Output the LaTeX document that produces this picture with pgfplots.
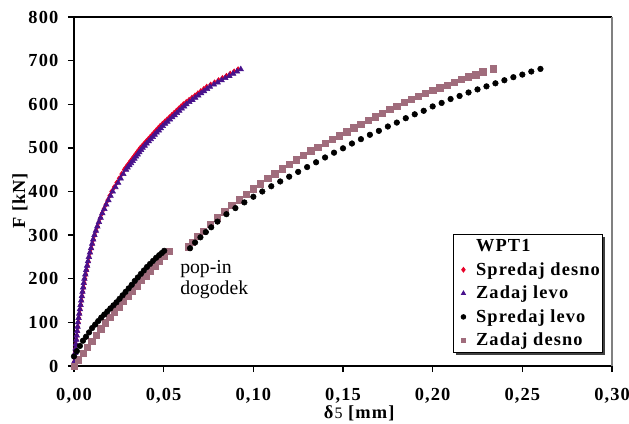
\documentclass[border=0pt]{standalone}
\usepackage{fontspec}
\setmainfont{Liberation Serif}
\newfontfamily\lsbf[LetterSpace=6]{Liberation Serif Bold}
\usepackage{pgfplots}
\pgfplotsset{compat=1.18}
\usetikzlibrary{shadows}
\definecolor{cred}{RGB}{232,0,40}
\definecolor{cpur}{RGB}{72,18,140}
\definecolor{cmau}{RGB}{160,108,124}
\newcommand{\tfont}{\lsbf\fontsize{13.8}{16}\selectfont}
\begin{document}
\begin{tikzpicture}
\begin{axis}[
  scale only axis, width=403.5pt, height=261.75pt,
  xmin=0, xmax=0.3, ymin=0, ymax=800,
  axis x line*=bottom, axis y line*=left,
  axis line style={black, line width=1.1pt},
  tick align=outside, major tick length=4.5pt,
  tick style={black, line width=1.1pt},
  xtick={0,0.05,0.1,0.15,0.2,0.25,0.3},
  ytick={0,100,200,300,400,500,600,700,800},
  scaled x ticks=false, scaled y ticks=false,
  /pgf/number format/assume math mode=true,
  xticklabel style={font=\tfont, yshift=-9pt, /pgf/number format/.cd, fixed, fixed zerofill, precision=2, use comma},
  yticklabel style={font=\tfont, xshift=-3.75pt, /pgf/number format/.cd, fixed, precision=0},
  xlabel={\textbf{δ}{\normalfont\fontsize{12}{14}\selectfont 5} \lsbf{[mm]}},
  xlabel style={font=\tfont, at={(axis description cs:0.53,-0.149)}, anchor=base},
  ylabel={F [kN]},
  ylabel style={font=\tfont, at={(axis description cs:-0.1003,0.473)}, anchor=center},
  clip=false,
  legend style={at={(rel axis cs:1,0)}, anchor=south east, xshift=-6.75pt, yshift=9.75pt,
    draw=black, line width=0.7pt, fill=white, font=\tfont, inner xsep=1pt, inner ysep=1.5pt,
    nodes={inner xsep=1pt},
    row sep=2.6pt, cells={anchor=west},
    drop shadow={shadow xshift=2pt, shadow yshift=-2pt, fill=black!75, opacity=1}},
  legend image code/.code={\pgfpathrectangle{\pgfpoint{0pt}{-2pt}}{\pgfpoint{14.75pt}{4pt}}\pgfusepath{discard}\draw[mark repeat=2,mark phase=2,#1,mark size=1.7pt] plot coordinates {(0pt,0pt)(6.25pt,0pt)(14.75pt,0pt)};},
]
\addlegendimage{empty legend}
\addlegendentry{WPT1}
% Spredaj desno
\addplot[only marks, mark=diamond*, mark size=2pt, color=cred] coordinates {
(0,0)(0.0002,10)(0.0004,20)(0.0006,30)(0.0008,40)(0.0010,50)(0.00128,60)(0.00156,70)(0.00184,80)(0.00212,90)
(0.0024,100)(0.00274,110)(0.00308,120)(0.00342,130)(0.00376,140)(0.0041,150)(0.0045,160)(0.0049,170)(0.0053,180)(0.0057,190)
(0.0061,200)(0.00656,210)(0.00702,220)(0.00748,230)(0.00794,240)(0.0084,250)(0.0090,260)(0.0096,270)(0.0102,280)(0.0108,290)
(0.0115,300)(0.0123,310)(0.0131,320)(0.0139,330)(0.0148,340)(0.0157,350)(0.0167,360)(0.0178,370)(0.0188,380)(0.0199,390)
(0.0210,400)(0.0224,410)(0.0238,420)(0.0252,430)(0.0266,440)
(0.0280,450)(0.0289,455)(0.0298,460)(0.0307,465)(0.0316,470)(0.0325,475)(0.0334,480)(0.0343,485)(0.0352,490)(0.0361,495)
(0.0370,500)(0.0381,505)(0.0392,510)(0.0403,515)(0.0414,520)(0.0425,525)(0.0436,530)(0.0447,535)(0.0458,540)(0.0469,545)
(0.0480,550)(0.0493,555)(0.0506,560)(0.0519,565)(0.0532,570)(0.0545,575)(0.0558,580)(0.0571,585)(0.0584,590)(0.0597,595)
(0.0610,600)(0.0626,605)(0.0642,610)(0.0658,615)(0.0675,620)(0.0691,625)(0.0707,630)(0.0724,635)(0.0740,640)(0.0762,645)
(0.0784,650)(0.0806,655)(0.0828,660)(0.0850,665)(0.0871,670)(0.0893,675)(0.0915,680)
};
\addlegendentry{Spredaj desno}
% Zadaj levo
\addplot[only marks, mark=triangle*, mark size=2.4pt, color=cpur] coordinates {
(0,0)(0.00022,10)(0.00044,20)(0.00066,30)(0.00088,40)(0.0011,50)(0.00132,60)(0.00154,70)(0.00176,80)(0.00198,90)
(0.0022,100)(0.00256,110)(0.00292,120)(0.00328,130)(0.00364,140)(0.0040,150)(0.00436,160)(0.00472,170)(0.00508,180)(0.00544,190)
(0.0058,200)(0.0063,210)(0.0068,220)(0.0073,230)(0.0078,240)(0.0083,250)(0.0089,260)(0.0095,270)(0.0101,280)(0.0107,290)
(0.0114,300)(0.0122,310)(0.0130,320)(0.0139,330)(0.0148,340)(0.0158,350)(0.0169,360)(0.0180,370)(0.0192,380)(0.0204,390)
(0.0216,400)(0.0231,410)(0.0246,420)(0.0260,430)(0.0275,440)
(0.0290,450)(0.0299,455)(0.0309,460)(0.0318,465)(0.0327,470)(0.0337,475)(0.0346,480)(0.0355,485)(0.0364,490)(0.0374,495)
(0.0383,500)(0.0394,505)(0.0405,510)(0.0417,515)(0.0428,520)(0.0439,525)(0.0450,530)(0.0461,535)(0.0473,540)(0.0484,545)
(0.0495,550)(0.0508,555)(0.0521,560)(0.0535,565)(0.0548,570)(0.0561,575)(0.0574,580)(0.0587,585)(0.0601,590)(0.0614,595)
(0.0627,600)(0.0643,605)(0.0660,610)(0.0676,615)(0.0693,620)(0.0709,625)(0.0725,630)(0.0742,635)(0.0758,640)(0.0780,645)
(0.0801,650)(0.0823,655)(0.0844,660)(0.0866,665)(0.0887,670)(0.0909,675)(0.0930,680)
};
\addlegendentry{Zadaj levo}
\addlegendimage{only marks, mark=*, color=black}
\addlegendentry{Spredaj levo}
\addlegendimage{only marks, mark=square*, color=cmau}
\addlegendentry{Zadaj desno}
% Zadaj desno
\addplot[only marks, mark=square*, mark size=2.4pt, color=cmau, forget plot] coordinates {
(0,0)(0.0025,14)(0.005,29)(0.0075,43)(0.010,57)(0.0125,71)(0.015,85)(0.0175,99)(0.020,112)(0.0225,124)
(0.025,136)(0.0275,148)(0.030,160)(0.0325,172)(0.035,184)(0.0375,196)(0.040,207)(0.0425,218)(0.045,229)(0.0475,240)
(0.050,251)(0.053,263)
(0.0637,273)(0.066,284)(0.069,297)(0.072,309)(0.076,325)(0.080,340)(0.084,354)(0.088,368)(0.092,381)(0.096,394)(0.100,406)
(0.104,418)(0.108,430)(0.112,441)(0.116,452)(0.120,463)(0.124,473)(0.128,483)(0.132,493)(0.136,502)(0.140,511)
(0.144,520)(0.148,528)(0.152,537)(0.156,546)(0.160,554)(0.164,563)(0.168,571)(0.172,580)(0.176,588)(0.180,596)
(0.184,604)(0.188,611)(0.192,618)(0.196,625)(0.200,632)(0.204,638)(0.208,644)(0.212,650)(0.216,657)(0.220,663)
(0.224,668)(0.228,674)(0.2337,681)
};
% Spredaj levo
\addplot[only marks, mark=*, mark size=2.1pt, color=black, forget plot] coordinates {
(0,22)(0.0016,34)(0.0033,46)(0.005,58)(0.0067,67)(0.0084,77)(0.0101,87)(0.0118,95)(0.0135,103)(0.0152,111)
(0.0169,118)(0.0186,125)(0.0203,132)(0.0220,139)(0.0237,146)(0.0254,154)(0.0271,162)(0.0288,170)(0.0305,178)(0.0322,186)
(0.0339,195)(0.0356,203)(0.0373,211)(0.0390,219)(0.0407,227)(0.0424,234)(0.0441,241)(0.0458,248)(0.0475,254)(0.0490,259)
(0.0503,264)
(0.0647,270)(0.0675,283)(0.0705,295)(0.0735,307)(0.0765,318)(0.080,331)(0.085,348)(0.090,362)(0.095,375)(0.100,388)(0.105,400)(0.110,412)
(0.115,423)(0.120,434)(0.125,445)(0.130,456)(0.135,467)(0.140,478)(0.145,489)(0.150,499)(0.155,510)(0.160,520)
(0.165,530)(0.170,539)(0.175,549)(0.180,558)(0.185,568)(0.190,577)(0.195,585)(0.200,595)(0.205,603)(0.210,612)
(0.215,619)(0.220,627)(0.225,634)(0.230,641)(0.235,648)(0.240,655)(0.245,662)(0.250,668)(0.255,675)(0.2601,681)
};
\draw[black, line width=0.8pt] (rel axis cs:0,1) -- (rel axis cs:1,1);
\draw[gray, line width=1.5pt] (rel axis cs:1,0) -- (rel axis cs:1,1);
\node[anchor=base west, inner sep=0pt, font=\fontsize{14.8}{17}\selectfont] at (axis cs:0.0591,211) {pop-in};
\node[anchor=base west, inner sep=0pt, font=\fontsize{14.8}{17}\selectfont] at (axis cs:0.0591,163) {dogodek};
\end{axis}
\pgfresetboundingbox
\path ([xshift=-55.5pt,yshift=-42.75pt]current axis.south west) rectangle ([xshift=12.75pt,yshift=12.75pt]current axis.north east);
\end{tikzpicture}
\end{document}
